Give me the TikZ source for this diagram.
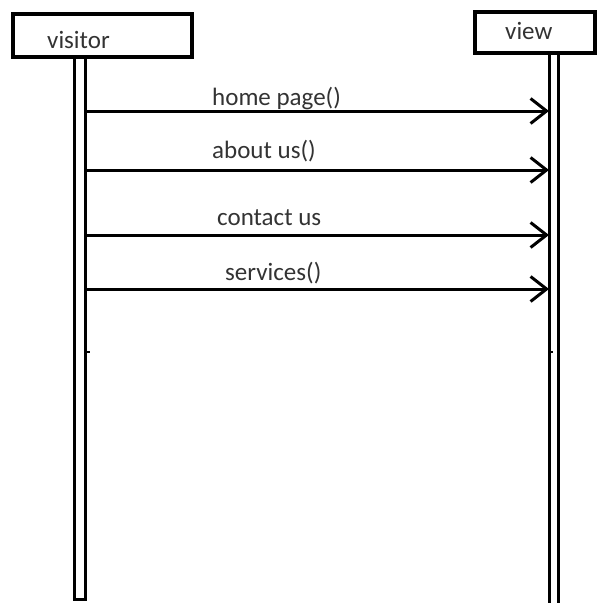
\documentclass[tikz,border=0pt]{standalone}
\usepackage{fontspec}
\setmainfont{Carlito}
\usetikzlibrary{arrows.meta}
\begin{document}
\begin{tikzpicture}[x=1pt,y=-1pt,
  lbl/.style={font=\fontsize{25}{30}\selectfont, text=black!80, inner sep=0pt},
  objbox/.style={draw, line width=4pt},
  life/.style={draw, line width=3pt},
  msg/.style={line width=3pt, -{Straight Barb[length=16pt, width=25pt, line width=3pt]}}]
  \useasboundingbox (0,0) rectangle (597,603);
  % participants
  \draw[objbox] (13,14) rectangle (192,57);
  \node[lbl, anchor=base west] (visitor) at (47,48) {visitor};
  \draw[objbox] (475,12) rectangle (595,53);
  \node[lbl, anchor=base west] (view) at (505,39) {view};
  % lifelines
  \draw[life] (74.5,57) -- (74.5,599) -- (85.5,599) -- (85.5,57);
  \draw[life] (549.5,53) -- (549.5,603);
  \draw[life] (558.5,53) -- (558.5,603);
  % small marks on the lifelines
  \draw[line width=2.5pt] (86,352) -- (90,352);
  \draw[line width=2.5pt] (550,352) -- (553,352);
  % message end points
  \foreach \n/\y in {m1/111, m2/170, m3/235, m4/289}{
    \coordinate (\n s) at (87,\y);
    \coordinate (\n e) at (549,\y);
  }
  \draw[msg] (m1s) -- (m1e);
  \draw[msg] (m2s) -- (m2e);
  \draw[msg] (m3s) -- (m3e);
  \draw[msg] (m4s) -- (m4e);
  % message labels
  \node[lbl, anchor=base west] (l1) at (212,105) {home page()};
  \node[lbl, anchor=base west] (l2) at (212,158) {about us()};
  \node[lbl, anchor=base west] (l3) at (217,225) {contact us};
  \node[lbl, anchor=base west] (l4) at (225,280) {services()};
\end{tikzpicture}
\end{document}
